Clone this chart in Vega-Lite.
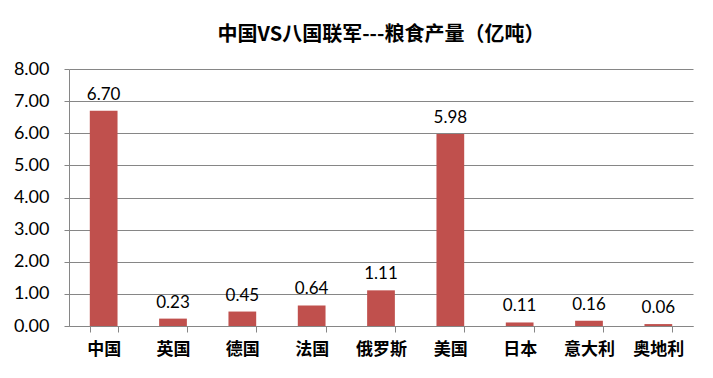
{
  "$schema": "https://vega.github.io/schema/vega-lite/v6.json",
  "width": 624,
  "height": 257,
  "autosize": {"type": "none"},
  "padding": {"left": 69, "top": 69, "right": 20, "bottom": 52},
  "background": "white",
  "title": {
    "text": "中国VS八国联军---粮食产量（亿吨）",
    "font": "Noto Sans CJK SC",
    "fontSize": 20,
    "fontWeight": "bold",
    "color": "black",
    "anchor": "middle",
    "offset": 15
  },
  "data": {
    "values": [
      {"country": "中国", "value": 6.70},
      {"country": "英国", "value": 0.23},
      {"country": "德国", "value": 0.45},
      {"country": "法国", "value": 0.64},
      {"country": "俄罗斯", "value": 1.11},
      {"country": "美国", "value": 5.98},
      {"country": "日本", "value": 0.11},
      {"country": "意大利", "value": 0.16},
      {"country": "奥地利", "value": 0.06}
    ]
  },
  "encoding": {
    "x": {
      "field": "country",
      "type": "nominal",
      "sort": null,
      "scale": {"paddingInner": 0.6, "paddingOuter": 0.3},
      "axis": {
        "title": null,
        "labelAngle": 0,
        "labelFont": "Noto Sans CJK SC",
        "labelFontSize": 17,
        "labelFontWeight": "bold",
        "labelColor": "black",
        "labelPadding": 9,
        "tickBand": "extent",
        "tickSize": 6,
        "tickColor": "#868686",
        "domainColor": "#868686",
        "grid": false
      }
    },
    "y": {
      "field": "value",
      "type": "quantitative",
      "scale": {"domain": [0, 8]},
      "axis": {
        "title": null,
        "format": ".2f",
        "values": [0, 1, 2, 3, 4, 5, 6, 7, 8],
        "labelOverlap": false,
        "labelFont": "Lato",
        "labelFontSize": 18,
        "labelColor": "black",
        "labelPadding": 15,
        "tickSize": 5,
        "tickColor": "#868686",
        "domainColor": "#868686",
        "gridColor": "#868686",
        "grid": true
      }
    }
  },
  "layer": [
    {"mark": {"type": "bar", "color": "#C0504D"}},
    {
      "mark": {"type": "text", "dy": -7, "font": "Lato", "fontSize": 17, "color": "black", "baseline": "bottom"},
      "encoding": {"text": {"field": "value", "type": "quantitative", "format": ".2f"}}
    }
  ],
  "config": {"view": {"stroke": null}}
}
